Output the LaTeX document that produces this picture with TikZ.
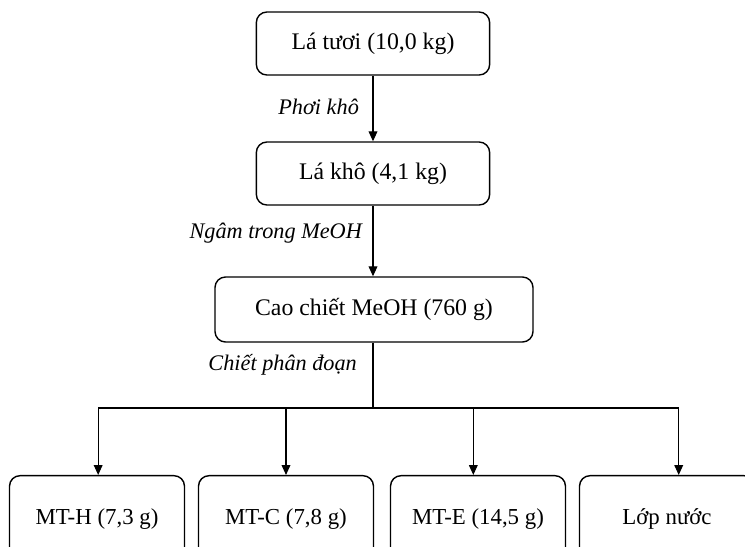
\documentclass[tikz,border=0pt]{standalone}
\usepackage{fontspec}
\setmainfont{Liberation Serif}
\usetikzlibrary{arrows.meta}

\tikzset{
	stage/.style={draw, line width=1.2pt, rounded corners=9pt, align=center,
		font=\fontsize{20.3}{24}\selectfont, minimum width=7cm, minimum height=1.89cm},
	fraction/.style={stage, font=\fontsize{19.5}{23}\selectfont, minimum width=5.25cm, minimum height=2.6cm},
	treat/.style={font=\fontsize{19}{22}\selectfont\itshape, anchor=east},
	flow/.style={line width=0.9pt, -{Triangle[width=7.5pt, length=8.5pt]}}
}

\begin{document}
\begin{tikzpicture}[x=0.03cm, y=-0.03cm]
	\useasboundingbox (0,0) rectangle (745,546);
	\clip (0,0) rectangle (745,546);
	% main line
	\node [stage] (fresh) at (373, 43.5) {Lá tươi (10,0 kg)};
	\node [stage] (dry) at (373, 173.5) {Lá khô (4,1 kg)};
	\node [stage, minimum width=9.54cm, minimum height=1.95cm] (crude) at (374, 309.5) {Cao chiết MeOH (760 g)};
	\draw [flow] (fresh) -- (dry);
	\draw [flow] (dry.south) -- (dry.south |- crude.north);
	\node [treat] (dryinglab) at (363, 107) {Phơi khô};
	\node [treat] (soaklab) at (366, 233) {Ngâm trong MeOH};
	\node [treat] (partlab) at (361, 365) {Chiết phân đoạn};
	% fractions
	\node [fraction] (hex) at (97, 519) {MT-H (7,3 g)};
	\node [fraction] (chl) at (286, 519) {MT-C (7,8 g)};
	\node [fraction] (eta) at (478, 519) {MT-E (14,5 g)};
	\node [fraction] (aq) at (667, 519) {Lớp nước};
	\coordinate (split) at (373, 408);
	\draw [line width=0.9pt] (crude.south -| split) -- (split);
	\draw [flow] (split) -| ([xshift=1]hex.north);
	\draw [flow] (split) -| (chl.north);
	\draw [flow] (split) -| ([xshift=-4]eta.north);
	\draw [flow] (split) -| ([xshift=10]aq.north);
\end{tikzpicture}
\end{document}
